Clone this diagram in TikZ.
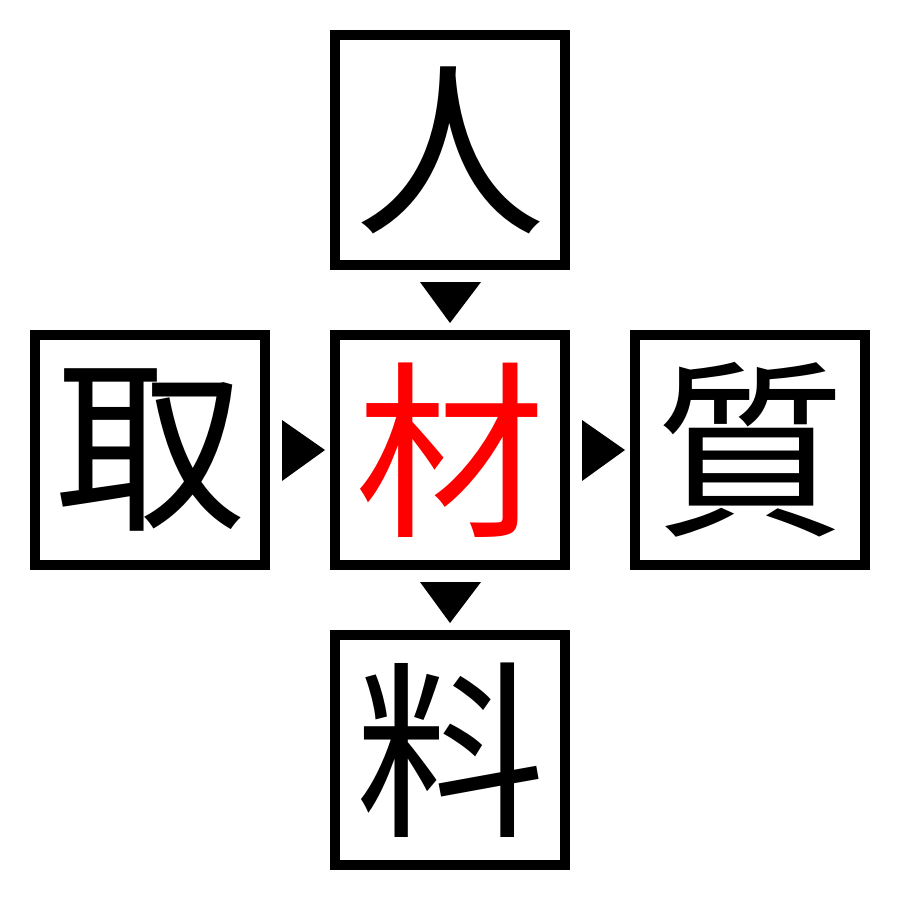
\documentclass[tikz,border=0pt]{standalone}
\usepackage{fontspec}
\newfontfamily\cjk{Noto Sans CJK JP}
\usetikzlibrary{calc}
\begin{document}
\begin{tikzpicture}[x=1pt,y=-1pt,
  kbox/.style={draw=black,line width=10pt,minimum size=230pt,inner sep=0pt,
    font=\cjk\fontsize{190}{190}\selectfont},
  tri/.style={fill=black,draw=none}]
\useasboundingbox (0,0) rectangle (900,900);
\node[kbox] (T) at (450,150) {人};
\node[kbox] (L) at (150,450) {取};
\node[kbox,text=red] (C) at (450,450) {材};
\node[kbox] (R) at (750,450) {質};
\node[kbox] (B) at (450,750) {料};
% triangles
\fill[tri] ($(T.south)+(-30,12)$) -- ($(T.south)+(31,12)$) -- ($(C.north)+(0,-7)$) -- cycle;
\fill[tri] ($(C.south)+(-30,12)$) -- ($(C.south)+(31,12)$) -- ($(B.north)+(0,-7)$) -- cycle;
\fill[tri] ($(L.east)+(12,-30)$) -- ($(L.east)+(12,31)$) -- ($(C.west)+(-5,0)$) -- cycle;
\fill[tri] ($(C.east)+(12,-30)$) -- ($(C.east)+(12,31)$) -- ($(R.west)+(-5,0)$) -- cycle;
\end{tikzpicture}
\end{document}
